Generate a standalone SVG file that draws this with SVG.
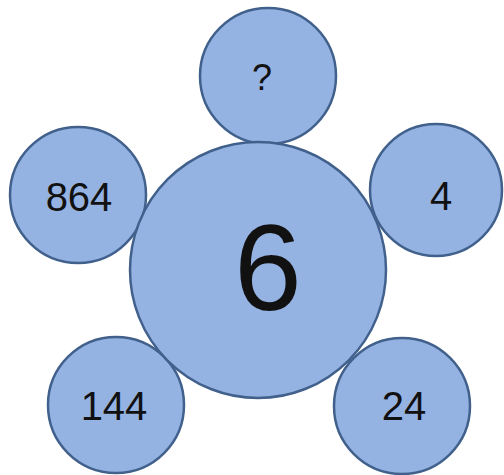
<svg xmlns="http://www.w3.org/2000/svg" width="504" height="475" viewBox="0 0 504 475">
<style>
.c{fill:#95b3e2;stroke:#41618c;stroke-width:2.5}
.t{font-family:"Liberation Sans",Arial,sans-serif;fill:#111;text-anchor:middle}
.s{font-size:40px}
</style>
<rect width="504" height="475" fill="#fff"/>
<g id="connectors"></g>
<g id="n-top"><circle class="c" cx="268" cy="76" r="68"/><text class="t" x="262" y="90" font-size="36">?</text></g>
<g id="n-864"><circle class="c" cx="78" cy="195" r="68"/><text class="t s" x="79" y="211">864</text></g>
<g id="n-4"><circle class="c" cx="436" cy="190" r="66"/><text class="t s" x="441" y="210">4</text></g>
<g id="n-144"><circle class="c" cx="116" cy="405" r="68"/><text class="t s" x="114" y="420">144</text></g>
<g id="n-24"><circle class="c" cx="402" cy="406" r="68"/><text class="t s" x="404" y="420">24</text></g>
<g id="n-6"><circle class="c" cx="258" cy="270" r="128"/><text class="t" x="268" y="310" font-size="122">6</text></g>
</svg>
